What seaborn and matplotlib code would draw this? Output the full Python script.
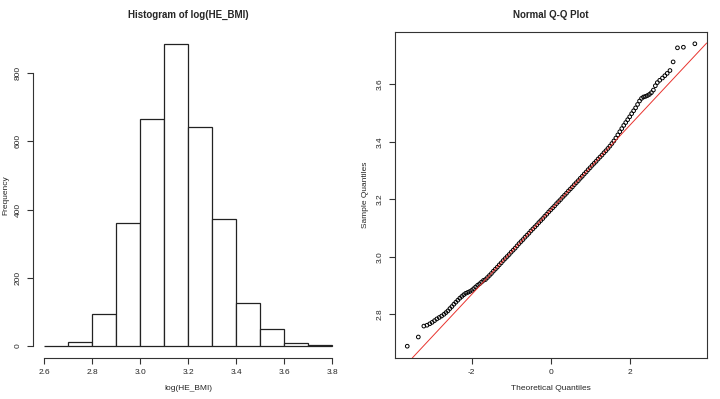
import numpy as np
import matplotlib
matplotlib.use('Agg')
import matplotlib.pyplot as plt
import seaborn as sns

# histogram of log(HE_BMI), bins of 0.1
bin_edges = [2.6, 2.7, 2.8, 2.9, 3.0, 3.1, 3.2, 3.3, 3.4, 3.5, 3.6, 3.7, 3.8]
bin_counts = [1, 11, 94, 360, 667, 886, 643, 373, 125, 51, 8, 3]

# Q-Q plot points
theo_q = [
    -3.63, -3.35, -3.21, -3.13, -3.06, -3.00, -2.94, -2.88, -2.82, -2.76,
    -2.70, -2.65, -2.60, -2.55, -2.50, -2.45, -2.40, -2.35, -2.30, -2.25,
    -2.20, -2.15, -2.10, -2.05, -2.00, -1.95, -1.90, -1.85, -1.80, -1.75,
    -1.70, -1.65, -1.60, -1.55, -1.50, -1.45, -1.40, -1.35, -1.30, -1.25,
    -1.20, -1.15, -1.10, -1.05, -1.00, -0.95, -0.90, -0.85, -0.80, -0.75,
    -0.70, -0.65, -0.60, -0.55, -0.50, -0.45, -0.40, -0.35, -0.30, -0.25,
    -0.20, -0.15, -0.10, -0.05, 0.00, 0.05, 0.10, 0.15, 0.20, 0.25,
    0.30, 0.35, 0.40, 0.45, 0.50, 0.55, 0.60, 0.65, 0.70, 0.75,
    0.80, 0.85, 0.90, 0.95, 1.00, 1.05, 1.10, 1.15, 1.20, 1.25,
    1.30, 1.35, 1.40, 1.45, 1.50, 1.55, 1.60, 1.65, 1.70, 1.75,
    1.80, 1.85, 1.90, 1.95, 2.00, 2.05, 2.10, 2.15, 2.20, 2.25,
    2.30, 2.35, 2.40, 2.45, 2.50, 2.55, 2.60, 2.65, 2.70, 2.76,
    2.83, 2.89, 2.95, 3.02, 3.10, 3.21, 3.36, 3.65,
]
sample_q = [
    2.689, 2.721, 2.759, 2.762, 2.767, 2.772, 2.778, 2.784, 2.789, 2.794,
    2.800, 2.806, 2.812, 2.820, 2.827, 2.835, 2.842, 2.849, 2.856, 2.862,
    2.868, 2.873, 2.876, 2.879, 2.883, 2.889, 2.895, 2.901, 2.906, 2.912,
    2.918, 2.921, 2.928, 2.935, 2.942, 2.950, 2.957, 2.964, 2.972, 2.979,
    2.987, 2.994, 3.001, 3.008, 3.016, 3.023, 3.030, 3.038, 3.046, 3.053,
    3.060, 3.068, 3.075, 3.082, 3.090, 3.097, 3.104, 3.111, 3.119, 3.126,
    3.133, 3.141, 3.148, 3.156, 3.163, 3.170, 3.177, 3.185, 3.192, 3.199,
    3.207, 3.214, 3.221, 3.229, 3.236, 3.243, 3.251, 3.258, 3.265, 3.273,
    3.280, 3.288, 3.295, 3.303, 3.310, 3.318, 3.325, 3.332, 3.340, 3.347,
    3.354, 3.362, 3.369, 3.377, 3.385, 3.394, 3.403, 3.413, 3.424, 3.435,
    3.446, 3.457, 3.467, 3.477, 3.487, 3.498, 3.508, 3.518, 3.530, 3.542,
    3.551, 3.556, 3.558, 3.561, 3.565, 3.571, 3.580, 3.595, 3.606, 3.614,
    3.622, 3.630, 3.638, 3.648, 3.678, 3.727, 3.729, 3.741,
]

# qqline
qqline_intercept = 3.163
qqline_slope = 0.147

sns.set_style('white')
plt.rcParams['font.family'] = ['Liberation Sans', 'DejaVu Sans']
plt.rcParams['axes.linewidth'] = 0.8
plt.rcParams['axes.unicode_minus'] = False

fig = plt.figure(figsize=(7.2, 3.99), dpi=100)
W, H = 720, 399


def add_axes_px(left, top, right, bottom):
    return fig.add_axes([left / W, 1 - bottom / H, (right - left) / W, (bottom - top) / H])


def r_style_ticks(ax):
    ax.tick_params(axis='both', which='both', direction='out', length=4, width=0.8,
                   color='#333333', labelsize=6, pad=4, bottom=True, left=True)
    for lab in ax.get_yticklabels():
        lab.set_rotation(90)
        lab.set_va('center')


# ---- left: histogram ----
ax1 = add_axes_px(32.5, 32, 343.8, 358)
centers = [(a + b) / 2 for a, b in zip(bin_edges[:-1], bin_edges[1:])]
sns.histplot(x=centers, weights=bin_counts, bins=bin_edges, ax=ax1,
             color='white', edgecolor='#222222', linewidth=0.9, alpha=1)
ax1.set_xlim(2.552, 3.848)
ax1.set_ylim(-35.4, 921)
ax1.set_xticks([2.6, 2.8, 3.0, 3.2, 3.4, 3.6, 3.8])
ax1.set_yticks([0, 200, 400, 600, 800])
for side in ['top', 'right']:
    ax1.spines[side].set_visible(False)
ax1.spines['left'].set_bounds(0, 800)
ax1.spines['bottom'].set_bounds(2.6, 3.8)
ax1.spines['left'].set_color('#333333')
ax1.spines['bottom'].set_color('#333333')
r_style_ticks(ax1)
ax1.set_xlabel('log(HE_BMI)', fontsize=6)
ax1.xaxis.set_label_coords(0.5, -30 / 326)
ax1.xaxis.label.set_va('center')
ax1.set_ylabel('Frequency', fontsize=6)
ax1.yaxis.set_label_coords(-26.5 / 311.3, 0.5)
ax1.yaxis.label.set_va('center')
ax1.text(0.5, 1 + 17 / 326, 'Histogram of log(HE_BMI)', transform=ax1.transAxes,
         ha='center', va='center', fontsize=7, fontweight='bold')

# ---- right: normal Q-Q plot ----
ax2 = add_axes_px(395, 32, 706.7, 358)
sns.scatterplot(x=theo_q, y=sample_q, ax=ax2, marker='o', s=7,
                facecolor='none', edgecolor='black', linewidth=0.7)
ax2.axline((0, qqline_intercept), slope=qqline_slope, color='#e8332e', linewidth=0.7, zorder=3)
ax2.set_xlim(-3.94, 3.95)
ax2.set_ylim(2.648, 3.782)
ax2.set_xticks([-2, 0, 2])
ax2.set_yticks([2.8, 3.0, 3.2, 3.4, 3.6])
ax2.set_yticklabels(['2.8', '3.0', '3.2', '3.4', '3.6'])
for side in ax2.spines.values():
    side.set_visible(True)
    side.set_color('#333333')
r_style_ticks(ax2)
ax2.set_xlabel('Theoretical Quantiles', fontsize=6)
ax2.xaxis.set_label_coords(0.5, -30 / 326)
ax2.xaxis.label.set_va('center')
ax2.set_ylabel('Sample Quantiles', fontsize=6)
ax2.yaxis.set_label_coords(-30 / 311.7, 0.5)
ax2.yaxis.label.set_va('center')
ax2.text(0.5, 1 + 17 / 326, 'Normal Q-Q Plot', transform=ax2.transAxes,
         ha='center', va='center', fontsize=7, fontweight='bold')

fig.savefig('out.png', dpi=100)
plt.close(fig)
